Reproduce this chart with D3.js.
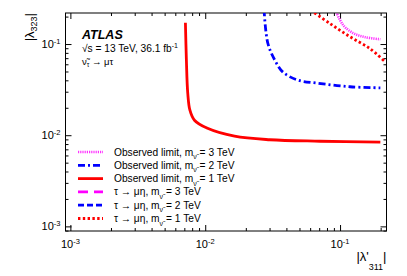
<!DOCTYPE html>
<html>
<head>
<meta charset="utf-8">
<script src="https://cdn.jsdelivr.net/npm/d3@7"></script>
<style>
  body { margin: 0; background: #fff; }
  text { font-family: "Liberation Sans", Arial, sans-serif; }
</style>
</head>
<body>
<script>
// axis ranges and decades
const xDomain = [0.00092, 0.221];
const yDomain = [0.00089, 0.219];
const majorTicks = [1e-3, 1e-2, 1e-1];
const majorExp = ["-3", "-2", "-1"];

// observed limits (lambda'311, lambda323)
const obs1_x = [0.00713, 0.00725, 0.00742, 0.0077, 0.00832, 0.0104, 0.0165, 0.0301, 0.071, 0.199];
const obs1_y = [0.171, 0.0667, 0.029, 0.0188, 0.0146, 0.0119, 0.00975, 0.00892, 0.00859, 0.00838];
const obs2_x = [0.0273, 0.0291, 0.0328, 0.0377, 0.0487, 0.0674, 0.1186, 0.199];
const obs2_y = [0.24, 0.1026, 0.0667, 0.0492, 0.0402, 0.0373, 0.034, 0.0331];
const obs3_x = [0.0925, 0.1052, 0.1248, 0.1534, 0.199];
const obs3_y = [0.235, 0.162, 0.132, 0.119, 0.1127];
// tau -> mu eta limit, 1 TeV (2 and 3 TeV lie outside the frame)
const eta1_x = [0.0605, 0.0843, 0.1186, 0.1667, 0.213];
const eta1_y = [0.235, 0.1675, 0.120, 0.0891, 0.065];

const legendLabels = ["Observed limit", "Observed limit", "Observed limit", "\u03c4 \u2192 \u03bc\u03b7", "\u03c4 \u2192 \u03bc\u03b7", "\u03c4 \u2192 \u03bc\u03b7"];
const legendMass = ["3", "2", "1", "3", "2", "1"];

const W = 407, H = 276;
const frame = { left: 65.5, right: 386.5, top: 13, bottom: 231 };

const svg = d3.select("body").append("svg")
    .attr("width", W).attr("height", H);

const x = d3.scaleLog().domain(xDomain).range([frame.left, frame.right]);
const y = d3.scaleLog().domain(yDomain).range([frame.bottom, frame.top]);

// minor ticks: 1..9 times each decade
function logTicks(dom) {
    const out = [];
    for (let e = -4; e <= 0; e++) {
        for (let m = 1; m <= 9; m++) {
            const v = m * Math.pow(10, e);
            if (v >= dom[0] && v <= dom[1]) out.push(v);
        }
    }
    return out;
}
const xMinor = logTicks(xDomain).filter(v => !majorTicks.some(t => Math.abs(t - v) / t < 1e-6));
const yMinor = logTicks(yDomain).filter(v => !majorTicks.some(t => Math.abs(t - v) / t < 1e-6));

function tickLayer(axisFn, scale, values, size, transform) {
    const g = svg.append("g").attr("transform", transform)
        .call(axisFn(scale).tickValues(values).tickSize(-size).tickFormat(""));
    g.select(".domain").remove();
    g.selectAll("line").attr("stroke", "#000").attr("stroke-width", 1);
}
tickLayer(d3.axisBottom, x, majorTicks, 6, `translate(0,${frame.bottom})`);
tickLayer(d3.axisBottom, x, xMinor, 3, `translate(0,${frame.bottom})`);
tickLayer(d3.axisTop, x, majorTicks, 6, `translate(0,${frame.top})`);
tickLayer(d3.axisTop, x, xMinor, 3, `translate(0,${frame.top})`);
tickLayer(d3.axisLeft, y, majorTicks, 6, `translate(${frame.left},0)`);
tickLayer(d3.axisLeft, y, yMinor, 3, `translate(${frame.left},0)`);
tickLayer(d3.axisRight, y, majorTicks, 6, `translate(${frame.right},0)`);
tickLayer(d3.axisRight, y, yMinor, 3, `translate(${frame.right},0)`);

svg.append("rect")
    .attr("x", frame.left).attr("y", frame.top)
    .attr("width", frame.right - frame.left).attr("height", frame.bottom - frame.top)
    .attr("fill", "none").attr("stroke", "#000").attr("stroke-width", 1);

// tick labels with superscript exponents
majorTicks.forEach((t, i) => {
    const tx = svg.append("text")
        .attr("x", x(t)).attr("y", frame.bottom + 17)
        .attr("text-anchor", "middle").attr("font-size", 11);
    tx.append("tspan").text("10");
    tx.append("tspan").attr("font-size", 7.5).attr("dy", -4.5).text(majorExp[i]);

    const ty = svg.append("text")
        .attr("x", frame.left - 5).attr("y", y(t) + 4)
        .attr("text-anchor", "end").attr("font-size", 11);
    ty.append("tspan").text("10");
    ty.append("tspan").attr("font-size", 7.5).attr("dy", -4.5).text(majorExp[i]);
});

// axis titles
const xt = svg.append("text")
    .attr("x", frame.right).attr("y", 261)
    .attr("text-anchor", "end").attr("font-size", 13);
xt.append("tspan").text("|\u03bb'");
xt.append("tspan").attr("font-size", 9).attr("dy", 9).text("311");
xt.append("tspan").attr("dy", -9).text("|");

const yt = svg.append("text")
    .attr("transform", `translate(34,${frame.top}) rotate(-90)`)
    .attr("text-anchor", "end").attr("font-size", 13);
yt.append("tspan").text("|\u03bb");
yt.append("tspan").attr("font-size", 9).attr("dy", 3).text("323");
yt.append("tspan").attr("dy", -3).text("|");

// curves
svg.append("clipPath").attr("id", "plotClip")
    .append("rect")
    .attr("x", frame.left).attr("y", frame.top)
    .attr("width", frame.right - frame.left).attr("height", frame.bottom - frame.top);

const line = d3.line()
    .x(d => x(d[0])).y(d => y(d[1]))
    .curve(d3.curveCatmullRom.alpha(0.5));

const styles = [
    { color: "#ff33ff", dash: "1.2,1", width: 2.6 },
    { color: "#0000ff", dash: "7,3,2,3", width: 2.8 },
    { color: "#ff0000", dash: null, width: 2.8 },
    { color: "#ff00ff", dash: "10,6", width: 2.8 },
    { color: "#0000ff", dash: "6,3", width: 2.8 },
    { color: "#ff0000", dash: "2.4,2.4", width: 2.8 }
];

const curves = [
    { xs: obs3_x, ys: obs3_y, s: styles[0] },
    { xs: obs2_x, ys: obs2_y, s: styles[1] },
    { xs: obs1_x, ys: obs1_y, s: styles[2] },
    { xs: eta1_x, ys: eta1_y, s: styles[5] }
];

const plot = svg.append("g").attr("clip-path", "url(#plotClip)");
curves.forEach(c => {
    plot.append("path")
        .datum(c.xs.map((v, i) => [v, c.ys[i]]))
        .attr("fill", "none")
        .attr("stroke", c.s.color)
        .attr("stroke-width", c.s.width)
        .attr("stroke-dasharray", c.s.dash)
        .attr("d", line);
});

// labels top left
svg.append("text")
    .attr("x", 82).attr("y", 38.5)
    .attr("font-size", 12.5).attr("font-weight", "bold").attr("font-style", "italic")
    .text("ATLAS");

const lumi = svg.append("text")
    .attr("x", 82).attr("y", 52).attr("font-size", 10.2);
lumi.append("tspan").text("\u221as = 13 TeV, 36.1 fb");
lumi.append("tspan").attr("font-size", 7).attr("dy", -4).text("-1");

const proc = svg.append("text")
    .attr("x", 82).attr("y", 65).attr("font-size", 9.5);
proc.append("tspan").text("\u03bd\u0303");
proc.append("tspan").attr("font-size", 6.5).attr("dy", 2).text("\u03c4");
proc.append("tspan").attr("dy", -2).text(" \u2192 \u03bc\u03c4");

// legend
const legend = svg.append("g");
legendLabels.forEach((lab, i) => {
    const ly = 152 + i * 13.3;
    legend.append("line")
        .attr("x1", 78).attr("x2", 103)
        .attr("y1", ly).attr("y2", ly)
        .attr("stroke", styles[i].color)
        .attr("stroke-width", styles[i].width)
        .attr("stroke-dasharray", styles[i].dash);
    const t = legend.append("text")
        .attr("x", 114).attr("y", ly + 3.5).attr("font-size", 10.2);
    t.append("tspan").text(lab + ", m");
    t.append("tspan").attr("font-size", 7).attr("dy", 3.5).text("\u03bd\u0303");
    t.append("tspan").attr("dy", -3.5).text(" = " + legendMass[i] + " TeV");
});
</script>
</body>
</html>
